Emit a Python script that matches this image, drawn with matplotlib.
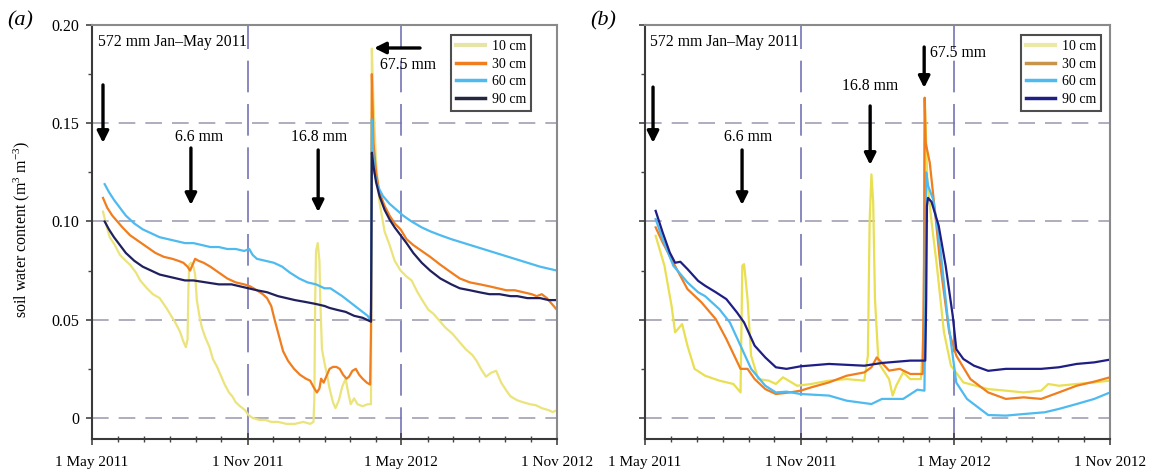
import numpy as np
import matplotlib
matplotlib.use('Agg')
import matplotlib.pyplot as plt
import matplotlib.dates as mdates
from matplotlib.lines import Line2D

plt.rcParams['font.family'] = ['Liberation Serif', 'DejaVu Serif']
plt.rcParams['mathtext.fontset'] = 'custom'
plt.rcParams['mathtext.rm'] = 'Liberation Serif'
plt.rcParams['mathtext.it'] = 'Liberation Serif:italic'

START = '2011-05-01'
END = '2012-11-01'
depths = ['10 cm', '30 cm', '60 cm', '90 cm']

# ---------------- panel (a) data: days since 1 May 2011, soil water content
a10_d = [13, 17, 21, 27, 33, 40, 45, 52, 57, 65, 72, 80, 88, 95, 98, 104, 108, 111, 113, 114, 115, 117, 120, 122, 124,
         127, 130, 134, 139, 143, 148, 152, 157, 162, 166, 170, 175, 181, 185, 190, 198, 205, 212, 220, 230, 240, 250,
         258, 262, 263, 264, 265, 267, 269, 270, 272, 275, 278, 281, 285, 288, 292, 296, 300, 303, 306, 310, 314, 320,
         326, 330, 331, 333, 336, 340, 346, 352, 358, 365, 372, 378, 385, 392, 398, 404, 410, 418, 426, 434, 442, 450,
         455, 460, 466, 472, 478, 484, 490, 495, 503, 510, 518, 525, 532, 540, 545, 550]
a10_v = [0.105, 0.098, 0.092, 0.088, 0.083, 0.080, 0.078, 0.074, 0.070, 0.066, 0.063, 0.061, 0.056, 0.051, 0.049, 0.044,
         0.039, 0.036, 0.040, 0.065, 0.078, 0.079, 0.077, 0.073, 0.060, 0.052, 0.046, 0.041, 0.036, 0.030, 0.026, 0.022,
         0.017, 0.013, 0.011, 0.008, 0.006, 0.004, 0.0015, 0.000, -0.001, -0.001, -0.002, -0.002, -0.003, -0.003, -0.002,
         -0.003, -0.002, 0.010, 0.060, 0.085, 0.089, 0.080, 0.060, 0.035, 0.028, 0.022, 0.015, 0.008, 0.005, 0.009,
         0.016, 0.020, 0.013, 0.007, 0.010, 0.007, 0.006, 0.007, 0.007, 0.188, 0.160, 0.130, 0.110, 0.095, 0.088, 0.080,
         0.075, 0.072, 0.070, 0.064, 0.059, 0.055, 0.053, 0.050, 0.046, 0.043, 0.039, 0.035, 0.032, 0.029, 0.025, 0.021,
         0.023, 0.024, 0.018, 0.014, 0.011, 0.009, 0.008, 0.007, 0.0065, 0.005, 0.004, 0.003, 0.004]

a30_d = [13, 18, 24, 30, 36, 45, 55, 65, 75, 85, 95, 102, 108, 113, 116, 119, 122, 126, 132, 140, 150, 160, 170, 180, 187,
         195, 202, 207, 212, 216, 221, 226, 232, 239, 246, 253, 258, 263, 266, 269, 271, 274, 278, 281, 285, 289, 293,
         297, 301, 304, 308, 312, 316, 320, 325, 329, 330, 331, 333, 336, 340, 346, 352, 358, 365, 372, 380, 390, 400,
         412, 425, 435, 447, 459, 470, 480, 490, 500, 510, 520, 526, 532, 538, 544, 550]
a30_v = [0.112, 0.107, 0.103, 0.100, 0.097, 0.093, 0.090, 0.087, 0.084, 0.082, 0.081, 0.080, 0.079, 0.077, 0.075, 0.078,
         0.081, 0.080, 0.079, 0.077, 0.074, 0.071, 0.069, 0.068, 0.067, 0.065, 0.063, 0.061, 0.057, 0.050, 0.042, 0.034,
         0.029, 0.025, 0.022, 0.020, 0.019, 0.015, 0.013, 0.015, 0.020, 0.018, 0.022, 0.025, 0.026, 0.026, 0.025, 0.022,
         0.020, 0.021, 0.024, 0.025, 0.022, 0.020, 0.018, 0.017, 0.045, 0.175, 0.140, 0.125, 0.115, 0.108, 0.103, 0.099,
         0.096, 0.091, 0.088, 0.085, 0.082, 0.078, 0.074, 0.071, 0.069, 0.068, 0.067, 0.066, 0.065, 0.065, 0.064, 0.063,
         0.062, 0.063, 0.061, 0.058, 0.055]

a60_d = [15, 20, 26, 33, 40, 50, 60, 70, 80, 90, 100, 110, 120, 130, 140, 150, 160, 170, 180, 186, 190, 195, 205, 215,
         225, 234, 245, 255, 265, 275, 282, 289, 296, 302, 308, 314, 320, 326, 329, 330, 331, 332, 334, 338, 344, 352,
         360, 368, 378, 390, 400, 412, 425, 440, 455, 470, 485, 500, 515, 530, 540, 550]
a60_v = [0.119, 0.115, 0.111, 0.107, 0.103, 0.099, 0.096, 0.094, 0.092, 0.091, 0.090, 0.089, 0.089, 0.088, 0.087, 0.087,
         0.086, 0.086, 0.085, 0.086, 0.083, 0.081, 0.080, 0.079, 0.077, 0.074, 0.071, 0.069, 0.068, 0.066, 0.066, 0.064,
         0.062, 0.060, 0.058, 0.056, 0.054, 0.052, 0.050, 0.055, 0.152, 0.140, 0.125, 0.118, 0.113, 0.109, 0.106, 0.103,
         0.100, 0.097, 0.095, 0.093, 0.091, 0.089, 0.087, 0.085, 0.083, 0.081, 0.079, 0.077, 0.076, 0.075]

a90_d = [15, 20, 26, 33, 40, 50, 60, 70, 80, 90, 100, 110, 120, 135, 150, 165, 175, 185, 195, 207, 220, 230, 240, 253,
         265, 275, 281, 290, 300, 310, 320, 325, 330, 331, 333, 336, 340, 346, 352, 358, 365, 372, 380, 390, 400, 412,
         425, 435, 447, 458, 470, 482, 495, 503, 515, 530, 540, 550]
a90_v = [0.100, 0.096, 0.092, 0.088, 0.084, 0.080, 0.077, 0.075, 0.073, 0.072, 0.071, 0.070, 0.070, 0.069, 0.068, 0.068,
         0.067, 0.066, 0.065, 0.064, 0.062, 0.061, 0.060, 0.059, 0.058, 0.057, 0.056, 0.055, 0.054, 0.052, 0.051, 0.050,
         0.049, 0.135, 0.128, 0.120, 0.113, 0.106, 0.101, 0.097, 0.093, 0.089, 0.084, 0.079, 0.075, 0.071, 0.068, 0.066,
         0.065, 0.064, 0.063, 0.063, 0.062, 0.062, 0.061, 0.061, 0.060, 0.060]

# ---------------- panel (b) data
b10_d = [12.6, 23.0, 31.4, 35.6, 43.9, 50.2, 58.6, 71.1, 87.9, 104.6, 113.0, 115.1, 117.2, 121.3, 125.5, 133.9, 146.4,
         154.8, 163.2, 179.9, 196.7, 217.6, 238.5, 259.4, 263.6, 265.7, 267.8, 269.9, 272.0, 276.2, 288.7, 292.9, 297.1,
         305.4, 313.8, 326.4, 330.0, 331.0, 334.0, 338.9, 345.2, 353.6, 361.9, 376.6, 405.9, 426.8, 447.7, 468.6, 477.0,
         489.5, 510.5, 531.4, 550]
b10_v = [0.0927, 0.0775, 0.0571, 0.0436, 0.0478, 0.0368, 0.0250, 0.0215, 0.0190, 0.0173, 0.0130, 0.0775, 0.0783, 0.0605,
         0.0317, 0.0198, 0.0190, 0.0173, 0.0207, 0.0164, 0.0173, 0.0190, 0.0198, 0.0190, 0.0317, 0.1000, 0.1240, 0.1100,
         0.0605, 0.0280, 0.0198, 0.0114, 0.0164, 0.0232, 0.0198, 0.0198, 0.0500, 0.1620, 0.1200, 0.1000, 0.0775, 0.0436,
         0.0266, 0.0181, 0.0147, 0.0139, 0.0130, 0.0139, 0.0173, 0.0164, 0.0173, 0.0181, 0.0190]

b30_d = [12.6, 20.9, 33.5, 50.2, 66.9, 83.7, 96.2, 113.0, 121.3, 129.7, 142.3, 154.8, 171.5, 184.1, 196.7, 217.6, 238.5,
         259.4, 267.8, 274.1, 280.3, 288.7, 301.3, 313.8, 328.5, 330.0, 330.8, 332.0, 336.8, 343.1, 349.4, 359.8, 368.2,
         384.9, 405.9, 426.8, 447.7, 468.6, 489.5, 510.5, 531.4, 550]
b30_v = [0.0970, 0.0893, 0.0790, 0.0656, 0.0588, 0.0503, 0.0402, 0.0250, 0.0250, 0.0198, 0.0147, 0.0122, 0.0130, 0.0139,
         0.0156, 0.0181, 0.0215, 0.0232, 0.0258, 0.0308, 0.0280, 0.0241, 0.0250, 0.0224, 0.0224, 0.0800, 0.1630, 0.1400,
         0.1300, 0.1046, 0.0775, 0.0436, 0.0317, 0.0198, 0.0130, 0.0097, 0.0105, 0.0097, 0.0130, 0.0164, 0.0185, 0.0207]

b60_d = [12.6, 20.9, 33.5, 50.2, 62.8, 71.1, 87.9, 100.4, 113.0, 125.5, 142.3, 154.8, 167.4, 184.1, 217.6, 238.5, 267.8,
         280.3, 305.4, 322.2, 330.5, 331.5, 332.6, 335.0, 341.0, 349.4, 357.7, 368.2, 380.8, 405.9, 426.8, 447.7, 472.8,
         489.5, 510.5, 531.4, 550]
b60_v = [0.1012, 0.0910, 0.0775, 0.0690, 0.0640, 0.0620, 0.0554, 0.0486, 0.0368, 0.0250, 0.0164, 0.0130, 0.0134, 0.0122,
         0.0114, 0.0088, 0.0071, 0.0097, 0.0097, 0.0144, 0.0139, 0.0500, 0.1250, 0.1180, 0.1110, 0.0860, 0.0520, 0.0180,
         0.0097, 0.0015, 0.0012, 0.0020, 0.0029, 0.0046, 0.0071, 0.0097, 0.0130]

b90_d = [12.6, 20.9, 29.3, 35.6, 41.8, 50.2, 62.8, 71.1, 83.7, 96.2, 108.8, 117.2, 129.7, 142.3, 154.8, 167.4, 184.1,
         217.6, 259.4, 280.3, 313.8, 331.5, 332.6, 333.5, 334.7, 338.9, 347.3, 355.6, 364.0, 368.2, 376.6, 389.1, 405.9,
         426.8, 468.6, 489.5, 510.5, 531.4, 550]
b90_v = [0.1054, 0.0944, 0.0842, 0.0790, 0.0795, 0.0758, 0.0698, 0.0673, 0.0640, 0.0605, 0.0537, 0.0486, 0.0368, 0.0308,
         0.0258, 0.0250, 0.0263, 0.0275, 0.0266, 0.0280, 0.0292, 0.0292, 0.0600, 0.1080, 0.1120, 0.1100, 0.0980, 0.0775,
         0.0520, 0.0350, 0.0300, 0.0266, 0.0240, 0.0250, 0.0250, 0.0258, 0.0275, 0.0283, 0.0297]

# rainfall annotations: (text, text_day, text_y, arrow_from(day, y), arrow_to(day, y), ha)
a_notes = [('6.6 mm', 126.6, 0.143, (117, 0.1374), (117, 0.1084), 'center'),
           ('16.8 mm', 268.6, 0.143, (267.5, 0.1364), (267.5, 0.1048), 'center'),
           ('67.5 mm', 340.8, 0.1796, (388, 0.1883), (333.7, 0.1883), 'left'),
           ('', 13, 0.17, (13, 0.1695), (13, 0.140), 'center')]
b_notes = [('6.6 mm', 121.9, 0.143, (114.8, 0.1364), (114.8, 0.1084), 'center'),
           ('16.8 mm', 266.3, 0.169, (266.3, 0.1588), (266.3, 0.1288), 'center'),
           ('67.5 mm', 337.3, 0.1858, (330.2, 0.1888), (330.2, 0.168), 'left'),
           ('', 9.5, 0.17, (9.5, 0.1684), (9.5, 0.140), 'center')]

a_colors = ['#ebe47c', '#f07d1e', '#4dbaf0', '#20205e']
b_colors = ['#e9df52', '#f07d1e', '#4dbaf0', '#1e1e84']
a_leg_colors = ['#e6e4a6', '#f07d1e', '#4dbaf0', '#262640']
b_leg_colors = ['#ece9a6', '#c8944a', '#4dbaf0', '#1e1e84']

W, H = 1151, 472
fig = plt.figure(figsize=(W / 100, H / 100), dpi=100)
base = mdates.datestr2num(START)
xend = mdates.datestr2num(END)

def px_axes(x0, x1, y0, y1):
    return fig.add_axes([x0 / W, 1 - y1 / H, (x1 - x0) / W, (y1 - y0) / H])

axA = px_axes(92, 557, 25, 439)
axB = px_axes(645, 1110, 25, 439)

panels = [
    (axA, [(a10_d, a10_v), (a30_d, a30_v), (a60_d, a60_v), (a90_d, a90_v)], a_colors, a_leg_colors, a_notes, True,
     0.944),
    (axB, [(b10_d, b10_v), (b30_d, b30_v), (b60_d, b60_v), (b90_d, b90_v)], b_colors, b_leg_colors, b_notes, False,
     0.981),
]

FS = 11.3
for ax, series, cols, legcols, notes, show_ylabels, legx in panels:
    ax.set_xlim(base, xend)
    ax.set_ylim(-0.0107, 0.20)
    for yv in [0, 0.05, 0.10, 0.15]:
        ax.axhline(yv, color='#a0a0b4', lw=1.2, ls=(0, (10, 6)), zorder=0)
    for dv in ['2011-11-01', '2012-05-01']:
        ax.axvline(mdates.datestr2num(dv), color='#7474b6', lw=1.2, ls=(0, (19, 7)), zorder=0)
    for (d, v), c in zip(series, cols):
        ax.plot(base + np.array(d), v, color=c, lw=1.6, solid_joinstyle='round')

    ax.xaxis.set_major_locator(mdates.MonthLocator(bymonth=[5, 11]))
    ax.xaxis.set_minor_locator(mdates.MonthLocator())
    ax.xaxis.set_major_formatter(mdates.DateFormatter('1 %b %Y'))
    ax.set_yticks([0, 0.05, 0.10, 0.15, 0.20])
    ax.set_yticks([0.025, 0.075, 0.125, 0.175], minor=True)
    if show_ylabels:
        ax.set_yticklabels(['0', '0.05', '0.10', '0.15', '0.20'])
    else:
        ax.set_yticklabels([])
    ax.tick_params(axis='x', which='major', direction='inout', length=8, width=1.2, color='#444',
                   labelsize=11, pad=8)
    ax.tick_params(axis='x', which='minor', direction='inout', length=5, width=1.0, color='#444')
    ax.tick_params(axis='y', which='major', direction='out', length=4, width=1.2, color='#444',
                   labelsize=11.5, pad=5)
    ax.tick_params(axis='y', which='minor', direction='out', length=3, width=1.0, color='#444')
    for s in ['left', 'bottom']:
        ax.spines[s].set_color('#3a3a3a')
        ax.spines[s].set_linewidth(1.5)
    for s in ['top', 'right']:
        ax.spines[s].set_color('#8a8a8a')
        ax.spines[s].set_linewidth(1.5)

    ax.text(base + (7.1 if show_ylabels else 5.9), 0.1913, '572 mm Jan\u2013May 2011', fontsize=FS,
            ha='left', va='center')
    for txt, tx, ty, p0, p1, ha in notes:
        if txt:
            ax.text(base + tx, ty, txt, fontsize=FS, ha=ha, va='center')
        ax.annotate('', xy=(base + p1[0], p1[1]), xytext=(base + p0[0], p0[1]),
                    arrowprops=dict(arrowstyle='-|>', color='black', lw=2.4, mutation_scale=17,
                                    shrinkA=0, shrinkB=0))

    handles = [Line2D([], [], color=c, lw=3.0 if i == 0 else 2.5) for i, c in enumerate(legcols)]
    leg = ax.legend(handles, depths, loc='upper right', bbox_to_anchor=(legx, 0.976), fontsize=10,
                    frameon=True, fancybox=False, edgecolor='#222', handlelength=2.1, labelspacing=0.34,
                    borderpad=0.35, handletextpad=0.5, borderaxespad=0)
    leg.get_frame().set_linewidth(1.5)

fig.text(7 / W, 1 - 21 / H, '(a)', fontsize=16, style='italic', ha='left', va='center')
fig.text(590 / W, 1 - 21 / H, '(b)', fontsize=16, style='italic', ha='left', va='center')
fig.text(22 / W, 1 - 229 / H, r'soil water content (m$^{3}$ m$^{-3}$)', rotation=90, fontsize=11.5,
         ha='center', va='center')

fig.savefig('out.png', dpi=100)
